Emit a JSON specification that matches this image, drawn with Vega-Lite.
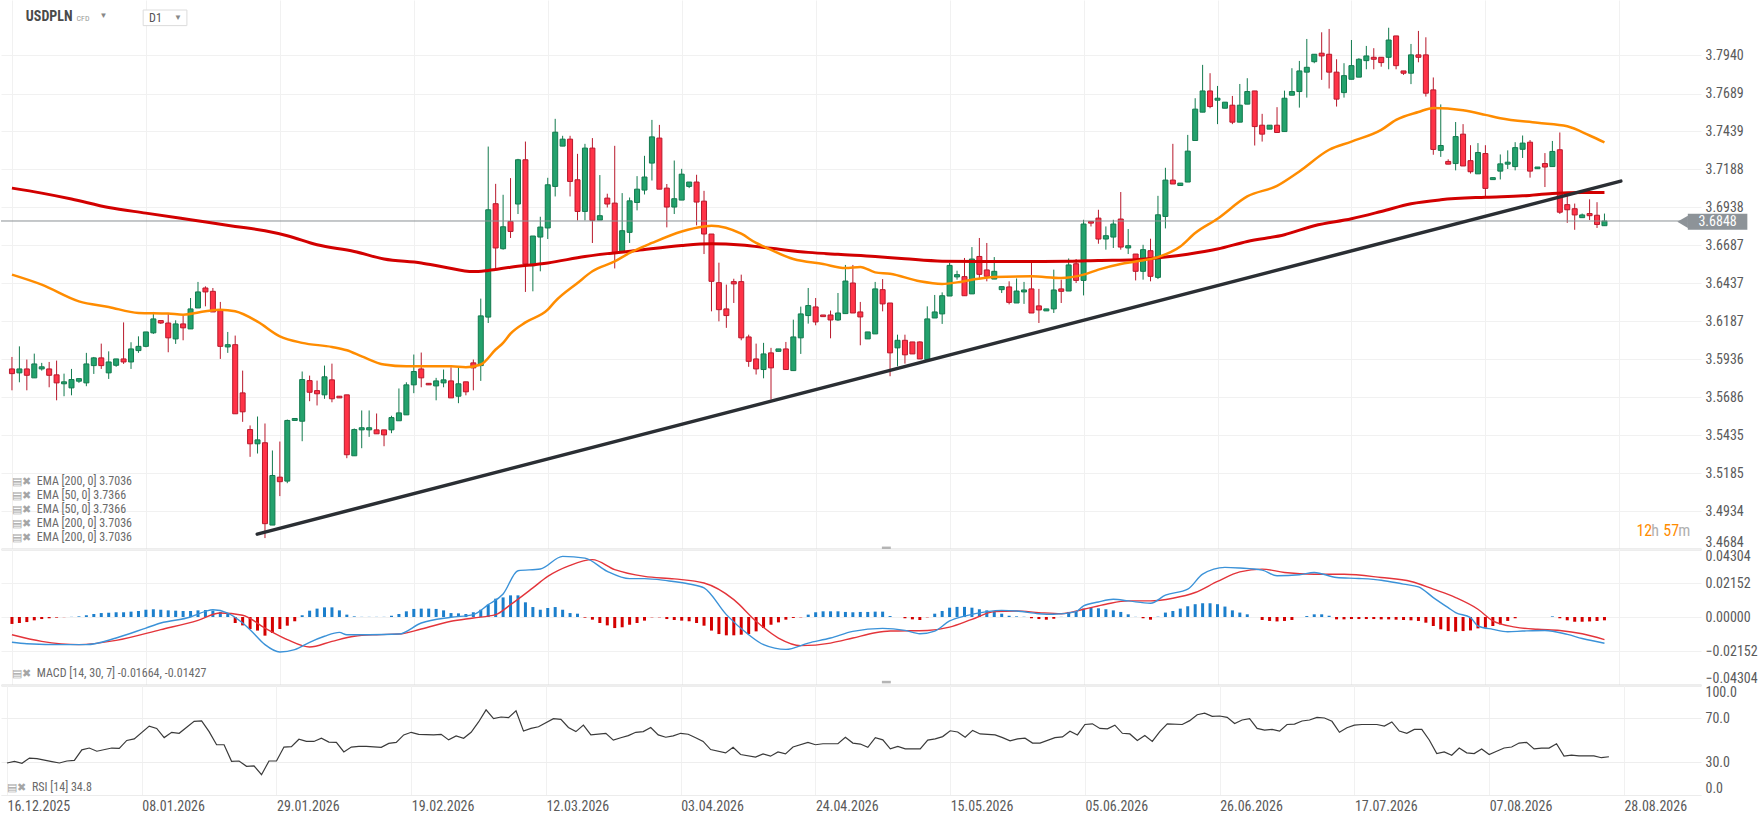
{
"$schema": "https://vega.github.io/schema/vega-lite/v6.json",
"padding": 0,
"spacing": 0,
"bounds": "flush",
"background": "#ffffff",
"config": {"view": {"stroke": null}, "font": "'Liberation Sans Narrow', 'Roboto Condensed', Roboto, sans-serif"},
"datasets": {
"k": [
{"i":0,"o":3.5872,"h":3.5951,"l":3.5731,"c":3.5841},{"i":1,"o":3.5846,"h":3.6021,"l":3.5784,"c":3.5872},{"i":2,"o":3.5872,"h":3.5934,"l":3.5731,"c":3.5830},{"i":3,"o":3.5813,"h":3.5973,"l":3.5813,"c":3.5905},{"i":4,"o":3.5872,"h":3.5912,"l":3.5861,"c":3.5886},{"i":5,"o":3.5872,"h":3.5918,"l":3.5751,"c":3.5830},{"i":6,"o":3.5833,"h":3.5927,"l":3.5665,"c":3.5780},{"i":7,"o":3.5774,"h":3.5841,"l":3.5692,"c":3.5787},{"i":8,"o":3.5747,"h":3.5872,"l":3.5698,"c":3.5802},{"i":9,"o":3.5791,"h":3.5808,"l":3.5780,"c":3.5808},
{"i":10,"o":3.5780,"h":3.5978,"l":3.5758,"c":3.5905},{"i":11,"o":3.5894,"h":3.5951,"l":3.5839,"c":3.5945},{"i":12,"o":3.5945,"h":3.6039,"l":3.5872,"c":3.5894},{"i":13,"o":3.5846,"h":3.5988,"l":3.5806,"c":3.5918},{"i":14,"o":3.5896,"h":3.5938,"l":3.5886,"c":3.5938},{"i":15,"o":3.5938,"h":3.6179,"l":3.5905,"c":3.5918},{"i":16,"o":3.5918,"h":3.6048,"l":3.5872,"c":3.6004},{"i":17,"o":3.5993,"h":3.6087,"l":3.5978,"c":3.6021},{"i":18,"o":3.6021,"h":3.6116,"l":3.6015,"c":3.6116},{"i":19,"o":3.6110,"h":3.6248,"l":3.6103,"c":3.6202},
{"i":20,"o":3.6191,"h":3.6191,"l":3.6169,"c":3.6175},{"i":21,"o":3.6175,"h":3.6235,"l":3.5982,"c":3.6077},{"i":22,"o":3.6070,"h":3.6193,"l":3.6037,"c":3.6169},{"i":23,"o":3.6169,"h":3.6224,"l":3.6061,"c":3.6143},{"i":24,"o":3.6136,"h":3.6340,"l":3.6136,"c":3.6268},{"i":25,"o":3.6274,"h":3.6446,"l":3.6274,"c":3.6380},{"i":26,"o":3.6406,"h":3.6417,"l":3.6285,"c":3.6380},{"i":27,"o":3.6384,"h":3.6406,"l":3.6248,"c":3.6248},{"i":28,"o":3.6257,"h":3.6314,"l":3.5938,"c":3.6021},{"i":29,"o":3.6017,"h":3.6116,"l":3.5978,"c":3.6032},
{"i":30,"o":3.6032,"h":3.6092,"l":3.5576,"c":3.5576},{"i":31,"o":3.5714,"h":3.5861,"l":3.5523,"c":3.5589},{"i":32,"o":3.5472,"h":3.5499,"l":3.5292,"c":3.5378},{"i":33,"o":3.5378,"h":3.5558,"l":3.5314,"c":3.5404},{"i":34,"o":3.5385,"h":3.5512,"l":3.4756,"c":3.4851},{"i":35,"o":3.4842,"h":3.5334,"l":3.4842,"c":3.5169},{"i":36,"o":3.5158,"h":3.5393,"l":3.5033,"c":3.5128},{"i":37,"o":3.5132,"h":3.5538,"l":3.5118,"c":3.5532},{"i":38,"o":3.5532,"h":3.5545,"l":3.5532,"c":3.5545},{"i":39,"o":3.5527,"h":3.5855,"l":3.5395,"c":3.5802},
{"i":40,"o":3.5795,"h":3.5828,"l":3.5659,"c":3.5718},{"i":41,"o":3.5729,"h":3.5795,"l":3.5631,"c":3.5708},{"i":42,"o":3.5701,"h":3.5894,"l":3.5675,"c":3.5820},{"i":43,"o":3.5800,"h":3.5907,"l":3.5652,"c":3.5675},{"i":44,"o":3.5692,"h":3.5692,"l":3.5681,"c":3.5681},{"i":45,"o":3.5701,"h":3.5701,"l":3.5283,"c":3.5306},{"i":46,"o":3.5299,"h":3.5479,"l":3.5299,"c":3.5472},{"i":47,"o":3.5470,"h":3.5598,"l":3.5349,"c":3.5484},{"i":48,"o":3.5470,"h":3.5598,"l":3.5424,"c":3.5484},{"i":49,"o":3.5470,"h":3.5578,"l":3.5444,"c":3.5444},
{"i":50,"o":3.5470,"h":3.5470,"l":3.5362,"c":3.5437},{"i":51,"o":3.5470,"h":3.5563,"l":3.5448,"c":3.5551},{"i":52,"o":3.5530,"h":3.5743,"l":3.5530,"c":3.5582},{"i":53,"o":3.5569,"h":3.5784,"l":3.5569,"c":3.5767},{"i":54,"o":3.5767,"h":3.5967,"l":3.5712,"c":3.5855},{"i":55,"o":3.5872,"h":3.5980,"l":3.5751,"c":3.5813},{"i":56,"o":3.5777,"h":3.5777,"l":3.5767,"c":3.5767},{"i":57,"o":3.5760,"h":3.5813,"l":3.5665,"c":3.5793},{"i":58,"o":3.5780,"h":3.5868,"l":3.5751,"c":3.5800},{"i":59,"o":3.5793,"h":3.5883,"l":3.5681,"c":3.5681},
{"i":60,"o":3.5692,"h":3.5883,"l":3.5646,"c":3.5774},{"i":61,"o":3.5787,"h":3.5787,"l":3.5698,"c":3.5721},{"i":62,"o":3.5912,"h":3.5934,"l":3.5731,"c":3.5879},{"i":63,"o":3.5894,"h":3.6336,"l":3.5793,"c":3.6222},{"i":64,"o":3.6214,"h":3.7339,"l":3.6175,"c":3.6922},{"i":65,"o":3.6962,"h":3.7093,"l":3.6531,"c":3.6670},{"i":66,"o":3.6665,"h":3.7021,"l":3.6659,"c":3.6810},{"i":67,"o":3.6845,"h":3.7131,"l":3.6736,"c":3.6779},{"i":68,"o":3.6960,"h":3.7258,"l":3.6894,"c":3.7252},{"i":69,"o":3.7252,"h":3.7372,"l":3.6380,"c":3.6564},
{"i":70,"o":3.6553,"h":3.6749,"l":3.6384,"c":3.6749},{"i":71,"o":3.6742,"h":3.6876,"l":3.6516,"c":3.6808},{"i":72,"o":3.6802,"h":3.7133,"l":3.6729,"c":3.7087},{"i":73,"o":3.7076,"h":3.7522,"l":3.7010,"c":3.7434},{"i":74,"o":3.7342,"h":3.7410,"l":3.7342,"c":3.7388},{"i":75,"o":3.7388,"h":3.7410,"l":3.7010,"c":3.7109},{"i":76,"o":3.7120,"h":3.7291,"l":3.6852,"c":3.6911},{"i":77,"o":3.6911,"h":3.7357,"l":3.6852,"c":3.7329},{"i":78,"o":3.7329,"h":3.7395,"l":3.6703,"c":3.6852},{"i":79,"o":3.6854,"h":3.7151,"l":3.6854,"c":3.6883},
{"i":80,"o":3.6999,"h":3.7028,"l":3.6937,"c":3.6960},{"i":81,"o":3.6966,"h":3.7344,"l":3.6535,"c":3.6637},{"i":82,"o":3.6641,"h":3.7032,"l":3.6641,"c":3.6784},{"i":83,"o":3.6773,"h":3.7003,"l":3.6703,"c":3.6981},{"i":84,"o":3.6970,"h":3.7144,"l":3.6918,"c":3.7058},{"i":85,"o":3.7052,"h":3.7278,"l":3.7023,"c":3.7138},{"i":86,"o":3.7230,"h":3.7515,"l":3.7115,"c":3.7403},{"i":87,"o":3.7395,"h":3.7482,"l":3.7058,"c":3.7058},{"i":88,"o":3.7065,"h":3.7092,"l":3.6806,"c":3.6940},{"i":89,"o":3.6940,"h":3.7247,"l":3.6894,"c":3.6995},
{"i":90,"o":3.6986,"h":3.7192,"l":3.6986,"c":3.7157},{"i":91,"o":3.7076,"h":3.7105,"l":3.7065,"c":3.7105},{"i":92,"o":3.7105,"h":3.7153,"l":3.6819,"c":3.6973},{"i":93,"o":3.6979,"h":3.7047,"l":3.6630,"c":3.6762},{"i":94,"o":3.6762,"h":3.6762,"l":3.6252,"c":3.6450},{"i":95,"o":3.6441,"h":3.6573,"l":3.6186,"c":3.6263},{"i":96,"o":3.6268,"h":3.6428,"l":3.6143,"c":3.6224},{"i":97,"o":3.6448,"h":3.6467,"l":3.6307,"c":3.6433},{"i":98,"o":3.6448,"h":3.6494,"l":3.6061,"c":3.6077},{"i":99,"o":3.6083,"h":3.6098,"l":3.5886,"c":3.5922},
{"i":100,"o":3.5938,"h":3.6039,"l":3.5835,"c":3.5872},{"i":101,"o":3.5868,"h":3.6044,"l":3.5810,"c":3.5971},{"i":102,"o":3.5978,"h":3.6011,"l":3.5670,"c":3.5879},{"i":103,"o":3.5988,"h":3.6004,"l":3.5988,"c":3.6004},{"i":104,"o":3.6004,"h":3.6050,"l":3.5868,"c":3.5868},{"i":105,"o":3.5861,"h":3.6197,"l":3.5861,"c":3.6083},{"i":106,"o":3.6077,"h":3.6283,"l":3.5971,"c":3.6235},{"i":107,"o":3.6224,"h":3.6406,"l":3.6171,"c":3.6290},{"i":108,"o":3.6281,"h":3.6340,"l":3.6160,"c":3.6182},{"i":109,"o":3.6228,"h":3.6228,"l":3.6217,"c":3.6217},
{"i":110,"o":3.6228,"h":3.6257,"l":3.6074,"c":3.6195},{"i":111,"o":3.6195,"h":3.6373,"l":3.6189,"c":3.6241},{"i":112,"o":3.6237,"h":3.6558,"l":3.6237,"c":3.6452},{"i":113,"o":3.6439,"h":3.6558,"l":3.6241,"c":3.6241},{"i":114,"o":3.6248,"h":3.6314,"l":3.6028,"c":3.6215},{"i":115,"o":3.6070,"h":3.6116,"l":3.6070,"c":3.6116},{"i":116,"o":3.6103,"h":3.6446,"l":3.6103,"c":3.6400},{"i":117,"o":3.6395,"h":3.6465,"l":3.6252,"c":3.6301},{"i":118,"o":3.6307,"h":3.6307,"l":3.5824,"c":3.5978},{"i":119,"o":3.6011,"h":3.6098,"l":3.5889,"c":3.6061},
{"i":120,"o":3.6061,"h":3.6098,"l":3.5907,"c":3.5965},{"i":121,"o":3.6050,"h":3.6050,"l":3.5971,"c":3.5971},{"i":122,"o":3.6050,"h":3.6054,"l":3.5938,"c":3.5938},{"i":123,"o":3.5934,"h":3.6285,"l":3.5934,"c":3.6202},{"i":124,"o":3.6208,"h":3.6360,"l":3.6208,"c":3.6248},{"i":125,"o":3.6235,"h":3.6377,"l":3.6169,"c":3.6355},{"i":126,"o":3.6353,"h":3.6571,"l":3.6353,"c":3.6555},{"i":127,"o":3.6479,"h":3.6520,"l":3.6461,"c":3.6494},{"i":128,"o":3.6481,"h":3.6604,"l":3.6355,"c":3.6355},{"i":129,"o":3.6367,"h":3.6676,"l":3.6367,"c":3.6597},
{"i":130,"o":3.6614,"h":3.6736,"l":3.6472,"c":3.6496},{"i":131,"o":3.6525,"h":3.6703,"l":3.6450,"c":3.6483},{"i":132,"o":3.6465,"h":3.6610,"l":3.6465,"c":3.6516},{"i":133,"o":3.6395,"h":3.6415,"l":3.6373,"c":3.6415},{"i":134,"o":3.6413,"h":3.6450,"l":3.6298,"c":3.6311},{"i":135,"o":3.6307,"h":3.6469,"l":3.6307,"c":3.6386},{"i":136,"o":3.6380,"h":3.6446,"l":3.6301,"c":3.6393},{"i":137,"o":3.6400,"h":3.6577,"l":3.6241,"c":3.6241},{"i":138,"o":3.6288,"h":3.6400,"l":3.6175,"c":3.6261},{"i":139,"o":3.6255,"h":3.6268,"l":3.6255,"c":3.6268},
{"i":140,"o":3.6268,"h":3.6527,"l":3.6241,"c":3.6393},{"i":141,"o":3.6400,"h":3.6461,"l":3.6307,"c":3.6384},{"i":142,"o":3.6386,"h":3.6601,"l":3.6386,"c":3.6558},{"i":143,"o":3.6566,"h":3.6597,"l":3.6439,"c":3.6456},{"i":144,"o":3.6456,"h":3.6856,"l":3.6357,"c":3.6828},{"i":145,"o":3.6845,"h":3.6845,"l":3.6812,"c":3.6834},{"i":146,"o":3.6867,"h":3.6922,"l":3.6698,"c":3.6729},{"i":147,"o":3.6729,"h":3.6812,"l":3.6659,"c":3.6751},{"i":148,"o":3.6742,"h":3.6856,"l":3.6670,"c":3.6828},{"i":149,"o":3.6861,"h":3.7039,"l":3.6659,"c":3.6676},
{"i":150,"o":3.6670,"h":3.6795,"l":3.6630,"c":3.6685},{"i":151,"o":3.6630,"h":3.6630,"l":3.6456,"c":3.6516},{"i":152,"o":3.6516,"h":3.6691,"l":3.6461,"c":3.6659},{"i":153,"o":3.6652,"h":3.6731,"l":3.6450,"c":3.6483},{"i":154,"o":3.6476,"h":3.7014,"l":3.6465,"c":3.6889},{"i":155,"o":3.6878,"h":3.7199,"l":3.6799,"c":3.7118},{"i":156,"o":3.7118,"h":3.7357,"l":3.7092,"c":3.7092},{"i":157,"o":3.7082,"h":3.7098,"l":3.7082,"c":3.7098},{"i":158,"o":3.7105,"h":3.7416,"l":3.7105,"c":3.7309},{"i":159,"o":3.7379,"h":3.7658,"l":3.7379,"c":3.7586},
{"i":160,"o":3.7566,"h":3.7878,"l":3.7566,"c":3.7706},{"i":161,"o":3.7706,"h":3.7823,"l":3.7592,"c":3.7603},{"i":162,"o":3.7645,"h":3.7739,"l":3.7487,"c":3.7658},{"i":163,"o":3.7592,"h":3.7632,"l":3.7592,"c":3.7632},{"i":164,"o":3.7612,"h":3.7673,"l":3.7487,"c":3.7500},{"i":165,"o":3.7500,"h":3.7752,"l":3.7500,"c":3.7612},{"i":166,"o":3.7619,"h":3.7790,"l":3.7619,"c":3.7702},{"i":167,"o":3.7706,"h":3.7706,"l":3.7346,"c":3.7471},{"i":168,"o":3.7480,"h":3.7555,"l":3.7372,"c":3.7421},{"i":169,"o":3.7454,"h":3.7480,"l":3.7454,"c":3.7480},
{"i":170,"o":3.7480,"h":3.7599,"l":3.7432,"c":3.7432},{"i":171,"o":3.7438,"h":3.7708,"l":3.7438,"c":3.7658},{"i":172,"o":3.7678,"h":3.7856,"l":3.7678,"c":3.7702},{"i":173,"o":3.7702,"h":3.7904,"l":3.7596,"c":3.7838},{"i":174,"o":3.7830,"h":3.8049,"l":3.7662,"c":3.7862},{"i":175,"o":3.7899,"h":3.7948,"l":3.7889,"c":3.7948},{"i":176,"o":3.7955,"h":3.8093,"l":3.7779,"c":3.7937},{"i":177,"o":3.7948,"h":3.8115,"l":3.7722,"c":3.7830},{"i":178,"o":3.7830,"h":3.7915,"l":3.7603,"c":3.7652},{"i":179,"o":3.7695,"h":3.7889,"l":3.7662,"c":3.7807},
{"i":180,"o":3.7783,"h":3.8042,"l":3.7783,"c":3.7873},{"i":181,"o":3.7797,"h":3.7922,"l":3.7797,"c":3.7915},{"i":182,"o":3.7906,"h":3.8003,"l":3.7849,"c":3.7937},{"i":183,"o":3.7928,"h":3.7988,"l":3.7849,"c":3.7915},{"i":184,"o":3.7928,"h":3.7928,"l":3.7866,"c":3.7893},{"i":185,"o":3.7928,"h":3.8123,"l":3.7849,"c":3.8042},{"i":186,"o":3.8069,"h":3.8069,"l":3.7849,"c":3.7873},{"i":187,"o":3.7838,"h":3.7838,"l":3.7812,"c":3.7823},{"i":188,"o":3.7823,"h":3.8016,"l":3.7751,"c":3.7944},{"i":189,"o":3.7944,"h":3.8102,"l":3.7895,"c":3.7928},
{"i":190,"o":3.7944,"h":3.8060,"l":3.7669,"c":3.7691},{"i":191,"o":3.7713,"h":3.7795,"l":3.7285,"c":3.7320},{"i":192,"o":3.7314,"h":3.7617,"l":3.7271,"c":3.7346},{"i":193,"o":3.7241,"h":3.7255,"l":3.7223,"c":3.7223},{"i":194,"o":3.7227,"h":3.7501,"l":3.7182,"c":3.7405},{"i":195,"o":3.7421,"h":3.7487,"l":3.7211,"c":3.7211},{"i":196,"o":3.7246,"h":3.7348,"l":3.7161,"c":3.7173},{"i":197,"o":3.7159,"h":3.7362,"l":3.7159,"c":3.7300},{"i":198,"o":3.7293,"h":3.7348,"l":3.7008,"c":3.7063},{"i":199,"o":3.7121,"h":3.7134,"l":3.7121,"c":3.7134},
{"i":200,"o":3.7177,"h":3.7287,"l":3.7122,"c":3.7225},{"i":201,"o":3.7223,"h":3.7314,"l":3.7191,"c":3.7236},{"i":202,"o":3.7207,"h":3.7368,"l":3.7182,"c":3.7332},{"i":203,"o":3.7321,"h":3.7412,"l":3.7264,"c":3.7362},{"i":204,"o":3.7368,"h":3.7382,"l":3.7134,"c":3.7177},{"i":205,"o":3.7193,"h":3.7204,"l":3.7193,"c":3.7204},{"i":206,"o":3.7227,"h":3.7296,"l":3.7072,"c":3.7204},{"i":207,"o":3.7207,"h":3.7376,"l":3.7207,"c":3.7307},{"i":208,"o":3.7318,"h":3.7432,"l":3.6895,"c":3.6906},{"i":209,"o":3.6956,"h":3.7013,"l":3.6836,"c":3.6922},
{"i":210,"o":3.6929,"h":3.6963,"l":3.6790,"c":3.6888},{"i":211,"o":3.6870,"h":3.6897,"l":3.6870,"c":3.6888},{"i":212,"o":3.6897,"h":3.6991,"l":3.6854,"c":3.6883},{"i":213,"o":3.6886,"h":3.6972,"l":3.6802,"c":3.6825},{"i":214,"o":3.6817,"h":3.6897,"l":3.6817,"c":3.6848}
],
"e200": [
{"i":0,"v":3.7065},{"i":4,"v":3.7032},{"i":8,"v":3.6993},{"i":13,"v":3.6937},{"i":18,"v":3.6900},{"i":24,"v":3.6856},{"i":30,"v":3.6812},{"i":34,"v":3.6784},{"i":37,"v":3.6751},{"i":41,"v":3.6691},{"i":46,"v":3.6647},{"i":50,"v":3.6597},{"i":55,"v":3.6571},{"i":58,"v":3.6545},{"i":62,"v":3.6514},{"i":64,"v":3.6522},{"i":67,"v":3.6543},{"i":72,"v":3.6571},{"i":77,"v":3.6614},{"i":84,"v":3.6654},{"i":90,"v":3.6687},{"i":94,"v":3.6698},{"i":98,"v":3.6690},{"i":102,"v":3.6668},{"i":107,"v":3.6641},{"i":111,"v":3.6628},{"i":116,"v":3.6614},{"i":120,"v":3.6599},{"i":125,"v":3.6583},{"i":130,"v":3.6581},{"i":136,"v":3.6581},{"i":142,"v":3.6583},{"i":146,"v":3.6588},{"i":151,"v":3.6593},{"i":155,"v":3.6610},{"i":158,"v":3.6629},{"i":162,"v":3.6663},{"i":166,"v":3.6713},{"i":171,"v":3.6757},{"i":175,"v":3.6817},{"i":180,"v":3.6863},{"i":184,"v":3.6911},{"i":188,"v":3.6962},{"i":192,"v":3.6988},{"i":198,"v":3.7005},{"i":203,"v":3.7014},{"i":207,"v":3.7030},{"i":211,"v":3.7036},{"i":214,"v":3.7036}
],
"e50": [
{"i":0,"v":3.6494},{"i":4,"v":3.6428},{"i":9,"v":3.6318},{"i":13,"v":3.6281},{"i":17,"v":3.6241},{"i":21,"v":3.6237},{"i":23,"v":3.6230},{"i":26,"v":3.6252},{"i":28,"v":3.6263},{"i":30,"v":3.6252},{"i":33,"v":3.6184},{"i":36,"v":3.6087},{"i":39,"v":3.6044},{"i":43,"v":3.6017},{"i":45,"v":3.5995},{"i":47,"v":3.5955},{"i":50,"v":3.5901},{"i":53,"v":3.5889},{"i":59,"v":3.5889},{"i":61,"v":3.5883},{"i":63,"v":3.5901},{"i":65,"v":3.6000},{"i":66,"v":3.6044},{"i":67,"v":3.6105},{"i":69,"v":3.6179},{"i":72,"v":3.6263},{"i":73,"v":3.6318},{"i":76,"v":3.6439},{"i":78,"v":3.6516},{"i":81,"v":3.6581},{"i":83,"v":3.6637},{"i":86,"v":3.6703},{"i":90,"v":3.6779},{"i":93,"v":3.6812},{"i":94,"v":3.6817},{"i":98,"v":3.6764},{"i":100,"v":3.6703},{"i":101,"v":3.6680},{"i":105,"v":3.6597},{"i":109,"v":3.6564},{"i":112,"v":3.6538},{"i":114,"v":3.6545},{"i":116,"v":3.6509},{"i":118,"v":3.6500},{"i":122,"v":3.6450},{"i":125,"v":3.6433},{"i":127,"v":3.6443},{"i":129,"v":3.6461},{"i":132,"v":3.6479},{"i":137,"v":3.6483},{"i":141,"v":3.6472},{"i":144,"v":3.6494},{"i":146,"v":3.6527},{"i":149,"v":3.6564},{"i":151,"v":3.6581},{"i":154,"v":3.6610},{"i":157,"v":3.6680},{"i":159,"v":3.6769},{"i":162,"v":3.6863},{"i":166,"v":3.7010},{"i":170,"v":3.7080},{"i":173,"v":3.7175},{"i":177,"v":3.7318},{"i":180,"v":3.7372},{"i":184,"v":3.7449},{"i":186,"v":3.7515},{"i":189,"v":3.7567},{"i":191,"v":3.7594},{"i":195,"v":3.7578},{"i":198,"v":3.7548},{"i":200,"v":3.7526},{"i":205,"v":3.7496},{"i":209,"v":3.7473},{"i":212,"v":3.7412},{"i":214,"v":3.7366}
],
"tr": [{"i":32.96,"v":3.4782},{"i":216.2,"v":3.7111}],
"m": [
{"i":0,"v":-0.0160},{"i":2,"v":-0.0169},{"i":7,"v":-0.0175},{"i":10,"v":-0.0175},{"i":14,"v":-0.0133},{"i":18,"v":-0.0070},{"i":20,"v":-0.0038},{"i":24,"v":0.0000},{"i":26,"v":0.0036},{"i":27,"v":0.0046},{"i":29,"v":0.0025},{"i":31,"v":-0.0038},{"i":32,"v":-0.0080},{"i":34,"v":-0.0175},{"i":36,"v":-0.0222},{"i":38,"v":-0.0207},{"i":40,"v":-0.0160},{"i":42,"v":-0.0122},{"i":44,"v":-0.0097},{"i":45,"v":-0.0112},{"i":48,"v":-0.0112},{"i":52,"v":-0.0108},{"i":55,"v":-0.0038},{"i":59,"v":-0.0002},{"i":62,"v":0.0015},{"i":64,"v":0.0078},{"i":66,"v":0.0146},{"i":68,"v":0.0293},{"i":71,"v":0.0304},{"i":74,"v":0.0384},{"i":77,"v":0.0373},{"i":80,"v":0.0289},{"i":83,"v":0.0243},{"i":85,"v":0.0243},{"i":88,"v":0.0230},{"i":91,"v":0.0209},{"i":93,"v":0.0184},{"i":96,"v":0.0015},{"i":99,"v":-0.0112},{"i":101,"v":-0.0175},{"i":104,"v":-0.0205},{"i":107,"v":-0.0165},{"i":110,"v":-0.0133},{"i":113,"v":-0.0091},{"i":117,"v":-0.0072},{"i":120,"v":-0.0085},{"i":122,"v":-0.0106},{"i":124,"v":-0.0089},{"i":126,"v":-0.0025},{"i":128,"v":0.0006},{"i":131,"v":0.0034},{"i":133,"v":0.0042},{"i":135,"v":0.0038},{"i":138,"v":0.0021},{"i":140,"v":0.0017},{"i":143,"v":0.0034},{"i":144,"v":0.0070},{"i":146,"v":0.0095},{"i":148,"v":0.0112},{"i":150,"v":0.0102},{"i":153,"v":0.0087},{"i":155,"v":0.0138},{"i":158,"v":0.0176},{"i":160,"v":0.0271},{"i":163,"v":0.0314},{"i":165,"v":0.0310},{"i":168,"v":0.0297},{"i":170,"v":0.0261},{"i":173,"v":0.0267},{"i":175,"v":0.0282},{"i":178,"v":0.0250},{"i":181,"v":0.0244},{"i":184,"v":0.0233},{"i":187,"v":0.0208},{"i":189,"v":0.0191},{"i":191,"v":0.0123},{"i":193,"v":0.0059},{"i":194,"v":0.0028},{"i":196,"v":-0.0004},{"i":197,"v":-0.0057},{"i":199,"v":-0.0078},{"i":201,"v":-0.0093},{"i":203,"v":-0.0089},{"i":206,"v":-0.0085},{"i":209,"v":-0.0110},{"i":211,"v":-0.0136},{"i":214,"v":-0.0166}
],
"sg": [
{"i":0,"v":-0.0112},{"i":4,"v":-0.0154},{"i":9,"v":-0.0175},{"i":14,"v":-0.0148},{"i":20,"v":-0.0080},{"i":25,"v":-0.0021},{"i":28,"v":0.0025},{"i":31,"v":0.0011},{"i":34,"v":-0.0070},{"i":37,"v":-0.0143},{"i":40,"v":-0.0190},{"i":43,"v":-0.0154},{"i":46,"v":-0.0122},{"i":49,"v":-0.0112},{"i":52,"v":-0.0108},{"i":55,"v":-0.0076},{"i":59,"v":-0.0027},{"i":62,"v":-0.0006},{"i":65,"v":0.0015},{"i":67,"v":0.0078},{"i":70,"v":0.0184},{"i":72,"v":0.0257},{"i":75,"v":0.0327},{"i":78,"v":0.0363},{"i":81,"v":0.0300},{"i":85,"v":0.0257},{"i":89,"v":0.0241},{"i":93,"v":0.0215},{"i":97,"v":0.0110},{"i":100,"v":-0.0027},{"i":103,"v":-0.0133},{"i":106,"v":-0.0181},{"i":110,"v":-0.0165},{"i":113,"v":-0.0133},{"i":116,"v":-0.0100},{"i":118,"v":-0.0089},{"i":123,"v":-0.0085},{"i":126,"v":-0.0064},{"i":129,"v":-0.0015},{"i":132,"v":0.0034},{"i":135,"v":0.0038},{"i":138,"v":0.0028},{"i":141,"v":0.0021},{"i":144,"v":0.0049},{"i":147,"v":0.0081},{"i":150,"v":0.0102},{"i":153,"v":0.0102},{"i":156,"v":0.0119},{"i":159,"v":0.0155},{"i":162,"v":0.0225},{"i":165,"v":0.0286},{"i":168,"v":0.0303},{"i":171,"v":0.0282},{"i":175,"v":0.0271},{"i":179,"v":0.0271},{"i":184,"v":0.0250},{"i":188,"v":0.0225},{"i":191,"v":0.0176},{"i":194,"v":0.0123},{"i":197,"v":0.0049},{"i":199,"v":-0.0025},{"i":202,"v":-0.0064},{"i":205,"v":-0.0078},{"i":208,"v":-0.0085},{"i":211,"v":-0.0106},{"i":214,"v":-0.0143}
],
"hist": [
{"i":0,"v":-0.0044},{"i":1,"v":-0.0038},{"i":2,"v":-0.0032},{"i":3,"v":-0.0021},{"i":4,"v":-0.0013},{"i":5,"v":-0.0008},{"i":6,"v":-0.0004},{"i":7,"v":-0.0001},{"i":8,"v":0.0001},{"i":9,"v":0.0004},
{"i":10,"v":0.0011},{"i":11,"v":0.0019},{"i":12,"v":0.0025},{"i":13,"v":0.0027},{"i":14,"v":0.0030},{"i":15,"v":0.0030},{"i":16,"v":0.0034},{"i":17,"v":0.0038},{"i":18,"v":0.0046},{"i":19,"v":0.0049},
{"i":20,"v":0.0046},{"i":21,"v":0.0042},{"i":22,"v":0.0040},{"i":23,"v":0.0038},{"i":24,"v":0.0038},{"i":25,"v":0.0042},{"i":26,"v":0.0044},{"i":27,"v":0.0040},{"i":28,"v":0.0032},{"i":29,"v":0.0019},
{"i":30,"v":-0.0038},{"i":31,"v":-0.0053},{"i":32,"v":-0.0076},{"i":33,"v":-0.0086},{"i":34,"v":-0.0118},{"i":35,"v":-0.0101},{"i":36,"v":-0.0076},{"i":37,"v":-0.0055},{"i":38,"v":-0.0027},{"i":39,"v":0.0011},
{"i":40,"v":0.0040},{"i":41,"v":0.0053},{"i":42,"v":0.0061},{"i":43,"v":0.0061},{"i":44,"v":0.0042},{"i":45,"v":0.0015},{"i":46,"v":0.0004},{"i":47,"v":0.0001},{"i":48,"v":0.0001},{"i":49,"v":0.0001},
{"i":50,"v":0.0001},{"i":51,"v":0.0008},{"i":52,"v":0.0019},{"i":53,"v":0.0036},{"i":54,"v":0.0051},{"i":55,"v":0.0053},{"i":56,"v":0.0053},{"i":57,"v":0.0051},{"i":58,"v":0.0042},{"i":59,"v":0.0025},
{"i":60,"v":0.0023},{"i":61,"v":0.0019},{"i":62,"v":0.0030},{"i":63,"v":0.0046},{"i":64,"v":0.0078},{"i":65,"v":0.0116},{"i":66,"v":0.0124},{"i":67,"v":0.0137},{"i":68,"v":0.0137},{"i":69,"v":0.0093},
{"i":70,"v":0.0063},{"i":71,"v":0.0046},{"i":72,"v":0.0057},{"i":73,"v":0.0063},{"i":74,"v":0.0046},{"i":75,"v":0.0025},{"i":76,"v":0.0021},{"i":77,"v":-0.0004},{"i":78,"v":-0.0017},{"i":79,"v":-0.0038},
{"i":80,"v":-0.0053},{"i":81,"v":-0.0070},{"i":82,"v":-0.0065},{"i":83,"v":-0.0049},{"i":84,"v":-0.0038},{"i":85,"v":-0.0023},{"i":86,"v":-0.0002},{"i":87,"v":-0.0002},{"i":88,"v":-0.0013},{"i":89,"v":-0.0019},
{"i":90,"v":-0.0023},{"i":91,"v":-0.0027},{"i":92,"v":-0.0038},{"i":93,"v":-0.0055},{"i":94,"v":-0.0086},{"i":95,"v":-0.0108},{"i":96,"v":-0.0116},{"i":97,"v":-0.0116},{"i":98,"v":-0.0112},{"i":99,"v":-0.0108},
{"i":100,"v":-0.0091},{"i":101,"v":-0.0070},{"i":102,"v":-0.0049},{"i":103,"v":-0.0034},{"i":104,"v":-0.0017},{"i":105,"v":-0.0006},{"i":106,"v":-0.0002},{"i":107,"v":0.0015},{"i":108,"v":0.0030},{"i":109,"v":0.0036},
{"i":110,"v":0.0036},{"i":111,"v":0.0036},{"i":112,"v":0.0032},{"i":113,"v":0.0030},{"i":114,"v":0.0032},{"i":115,"v":0.0032},{"i":116,"v":0.0034},{"i":117,"v":0.0034},{"i":118,"v":0.0006},{"i":119,"v":0.0000},
{"i":120,"v":-0.0008},{"i":121,"v":-0.0015},{"i":122,"v":-0.0019},{"i":123,"v":-0.0002},{"i":124,"v":0.0021},{"i":125,"v":0.0038},{"i":126,"v":0.0059},{"i":127,"v":0.0064},{"i":128,"v":0.0064},{"i":129,"v":0.0059},
{"i":130,"v":0.0049},{"i":131,"v":0.0042},{"i":132,"v":0.0034},{"i":133,"v":0.0021},{"i":134,"v":0.0008},{"i":135,"v":0.0004},{"i":136,"v":0.0001},{"i":137,"v":-0.0008},{"i":138,"v":-0.0013},{"i":139,"v":-0.0017},
{"i":140,"v":-0.0011},{"i":141,"v":0.0001},{"i":142,"v":0.0032},{"i":143,"v":0.0038},{"i":144,"v":0.0053},{"i":145,"v":0.0059},{"i":146,"v":0.0055},{"i":147,"v":0.0049},{"i":148,"v":0.0042},{"i":149,"v":0.0032},
{"i":150,"v":0.0017},{"i":151,"v":0.0001},{"i":152,"v":-0.0008},{"i":153,"v":-0.0017},{"i":154,"v":0.0002},{"i":155,"v":0.0028},{"i":156,"v":0.0038},{"i":157,"v":0.0053},{"i":158,"v":0.0068},{"i":159,"v":0.0081},
{"i":160,"v":0.0087},{"i":161,"v":0.0087},{"i":162,"v":0.0081},{"i":163,"v":0.0066},{"i":164,"v":0.0042},{"i":165,"v":0.0028},{"i":166,"v":0.0017},{"i":167,"v":0.0000},{"i":168,"v":-0.0019},{"i":169,"v":-0.0025},
{"i":170,"v":-0.0028},{"i":171,"v":-0.0025},{"i":172,"v":-0.0019},{"i":173,"v":0.0000},{"i":174,"v":0.0006},{"i":175,"v":0.0017},{"i":176,"v":0.0017},{"i":177,"v":0.0008},{"i":178,"v":-0.0015},{"i":179,"v":-0.0015},
{"i":180,"v":-0.0013},{"i":181,"v":-0.0013},{"i":182,"v":-0.0013},{"i":183,"v":-0.0013},{"i":184,"v":-0.0015},{"i":185,"v":-0.0015},{"i":186,"v":-0.0017},{"i":187,"v":-0.0019},{"i":188,"v":-0.0021},{"i":189,"v":-0.0025},
{"i":190,"v":-0.0036},{"i":191,"v":-0.0057},{"i":192,"v":-0.0078},{"i":193,"v":-0.0089},{"i":194,"v":-0.0093},{"i":195,"v":-0.0089},{"i":196,"v":-0.0085},{"i":197,"v":-0.0072},{"i":198,"v":-0.0068},{"i":199,"v":-0.0057},
{"i":200,"v":-0.0047},{"i":201,"v":-0.0025},{"i":202,"v":-0.0008},{"i":203,"v":0.0000},{"i":204,"v":0.0000},{"i":205,"v":0.0000},{"i":206,"v":0.0000},{"i":207,"v":0.0004},{"i":208,"v":-0.0008},{"i":209,"v":-0.0021},
{"i":210,"v":-0.0030},{"i":211,"v":-0.0030},{"i":212,"v":-0.0028},{"i":213,"v":-0.0025},{"i":214,"v":-0.0021}
],
"rsi": [
{"i":0,"v":29.1},{"i":1,"v":30.6},{"i":2,"v":28.8},{"i":3,"v":33.6},{"i":4,"v":33.0},{"i":6,"v":30.3},{"i":7,"v":29.1},{"i":8,"v":30.9},{"i":9,"v":31.5},{"i":10,"v":41.0},{"i":11,"v":42.7},{"i":12,"v":39.8},{"i":14,"v":42.7},{"i":15,"v":42.4},{"i":16,"v":49.6},{"i":17,"v":51.0},{"i":19,"v":62.6},{"i":20,"v":60.5},{"i":21,"v":52.2},{"i":22,"v":57.0},{"i":23,"v":56.1},{"i":25,"v":67.0},{"i":26,"v":67.3},{"i":27,"v":57.6},{"i":28,"v":45.7},{"i":29,"v":45.7},{"i":30,"v":30.6},{"i":31,"v":30.9},{"i":32,"v":26.1},{"i":33,"v":26.4},{"i":34,"v":18.4},{"i":35,"v":30.9},{"i":36,"v":30.9},{"i":37,"v":43.6},{"i":38,"v":43.9},{"i":39,"v":50.7},{"i":40,"v":48.7},{"i":41,"v":48.7},{"i":42,"v":51.6},{"i":43,"v":48.1},{"i":44,"v":47.8},{"i":45,"v":39.2},{"i":46,"v":43.6},{"i":47,"v":44.2},{"i":48,"v":44.2},{"i":50,"v":43.3},{"i":51,"v":46.9},{"i":52,"v":47.8},{"i":53,"v":54.6},{"i":54,"v":57.0},{"i":55,"v":55.2},{"i":57,"v":54.6},{"i":58,"v":55.2},{"i":59,"v":50.1},{"i":60,"v":53.7},{"i":61,"v":51.6},{"i":62,"v":57.0},{"i":63,"v":66.4},{"i":64,"v":77.4},{"i":65,"v":69.4},{"i":66,"v":70.9},{"i":67,"v":70.3},{"i":68,"v":76.5},{"i":69,"v":58.1},{"i":70,"v":60.5},{"i":71,"v":62.0},{"i":73,"v":69.4},{"i":74,"v":68.8},{"i":75,"v":61.4},{"i":76,"v":57.6},{"i":77,"v":63.5},{"i":78,"v":54.6},{"i":80,"v":56.1},{"i":81,"v":49.9},{"i":82,"v":52.0},{"i":83,"v":54.0},{"i":84,"v":57.0},{"i":85,"v":57.6},{"i":86,"v":61.4},{"i":87,"v":54.6},{"i":88,"v":52.5},{"i":89,"v":53.7},{"i":90,"v":56.1},{"i":91,"v":55.2},{"i":92,"v":52.0},{"i":93,"v":48.7},{"i":94,"v":41.3},{"i":96,"v":38.3},{"i":97,"v":43.3},{"i":98,"v":36.8},{"i":100,"v":34.4},{"i":101,"v":37.4},{"i":102,"v":35.3},{"i":103,"v":39.2},{"i":104,"v":37.4},{"i":105,"v":43.6},{"i":107,"v":47.8},{"i":108,"v":45.7},{"i":109,"v":46.6},{"i":111,"v":46.6},{"i":112,"v":52.5},{"i":113,"v":47.2},{"i":114,"v":46.3},{"i":115,"v":43.3},{"i":116,"v":52.2},{"i":117,"v":50.1},{"i":118,"v":41.9},{"i":119,"v":44.2},{"i":120,"v":41.9},{"i":122,"v":41.9},{"i":123,"v":49.9},{"i":124,"v":51.0},{"i":125,"v":53.1},{"i":126,"v":58.4},{"i":127,"v":57.3},{"i":128,"v":52.5},{"i":129,"v":58.7},{"i":130,"v":55.5},{"i":132,"v":54.6},{"i":133,"v":52.2},{"i":134,"v":49.3},{"i":135,"v":51.0},{"i":136,"v":51.6},{"i":137,"v":47.2},{"i":138,"v":47.2},{"i":140,"v":52.2},{"i":141,"v":52.8},{"i":142,"v":57.9},{"i":143,"v":54.6},{"i":144,"v":64.1},{"i":145,"v":64.7},{"i":146,"v":60.5},{"i":147,"v":60.2},{"i":148,"v":63.5},{"i":149,"v":56.1},{"i":150,"v":55.5},{"i":151,"v":49.6},{"i":152,"v":54.0},{"i":153,"v":48.7},{"i":154,"v":57.6},{"i":155,"v":64.7},{"i":157,"v":64.1},{"i":158,"v":67.6},{"i":159,"v":73.0},{"i":160,"v":74.4},{"i":161,"v":71.5},{"i":162,"v":71.8},{"i":163,"v":70.6},{"i":164,"v":65.0},{"i":165,"v":68.2},{"i":166,"v":69.4},{"i":167,"v":60.5},{"i":168,"v":59.0},{"i":169,"v":59.6},{"i":170,"v":58.1},{"i":171,"v":64.1},{"i":172,"v":64.4},{"i":173,"v":67.3},{"i":174,"v":68.2},{"i":175,"v":70.6},{"i":176,"v":70.0},{"i":177,"v":67.0},{"i":178,"v":57.0},{"i":179,"v":61.1},{"i":180,"v":63.5},{"i":181,"v":64.1},{"i":183,"v":64.1},{"i":184,"v":62.6},{"i":185,"v":66.4},{"i":186,"v":58.1},{"i":187,"v":56.1},{"i":188,"v":59.6},{"i":189,"v":59.6},{"i":190,"v":50.0},{"i":191,"v":37.7},{"i":192,"v":39.2},{"i":193,"v":36.2},{"i":194,"v":42.7},{"i":195,"v":38.3},{"i":196,"v":37.7},{"i":197,"v":41.9},{"i":198,"v":36.8},{"i":199,"v":39.8},{"i":200,"v":42.7},{"i":201,"v":43.6},{"i":202,"v":47.2},{"i":203,"v":47.8},{"i":204,"v":41.9},{"i":205,"v":42.7},{"i":206,"v":42.7},{"i":207,"v":46.6},{"i":208,"v":35.3},{"i":209,"v":36.2},{"i":210,"v":35.6},{"i":212,"v":35.6},{"i":213,"v":33.9},{"i":214,"v":34.8}
]
},
"vconcat": [
{
"width": 1700, "height": 549,
"layer": [
{"data": {"name": "k"}, "mark": {"type": "rule", "strokeWidth": 1},
 "encoding": {
  "x": {"field": "i", "type": "quantitative", "scale": {"domain": [-0.8, 226.3], "nice": false, "zero": false},
        "axis": {"values": [0,18,36,54,72,90,108,126,144,162,180,198,216], "tickCount": 50, "labels": false, "ticks": false, "grid": true, "gridColor": "#f1f1f1", "domainColor": "#dcdcdc", "domainWidth": 2, "title": null}},
  "y": {"field": "l", "type": "quantitative", "scale": {"domain": [3.4684, 3.8306], "nice": false, "zero": false},
        "axis": {"orient": "right", "values": [3.4684,3.4934,3.5185,3.5435,3.5686,3.5936,3.6187,3.6437,3.6687,3.6938,3.7188,3.7439,3.7689,3.7940], "tickCount": 30, "format": ".4f", "title": null, "ticks": false, "domain": false, "grid": true, "gridColor": "#f1f1f1", "labelPadding": 4, "labelFlush": true, "labelOverlap": false, "labelColor": "#5a5a5a", "labelFontSize": 14}},
  "y2": {"field": "h"},
  "color": {"condition": {"test": "datum.c >= datum.o", "value": "#127a4e"}, "value": "#b8192c"}
 }},
{"data": {"name": "k"}, "mark": {"type": "bar", "size": 5, "strokeWidth": 1},
 "encoding": {
  "x": {"field": "i", "type": "quantitative"},
  "y": {"field": "o", "type": "quantitative"},
  "y2": {"field": "c"},
  "fill": {"condition": {"test": "datum.c >= datum.o", "value": "#23a26d"}, "value": "#ff3347"},
  "stroke": {"condition": {"test": "datum.c >= datum.o", "value": "#127a4e"}, "value": "#b8192c"}
 }},
{"data": {"values": [{}]}, "mark": {"type": "rule", "color": "#8b9095", "strokeWidth": 1}, "encoding": {"y": {"datum": 3.6848}}},
{"data": {"name": "e200"}, "mark": {"type": "line", "color": "#d20000", "strokeWidth": 3, "interpolate": "monotone"},
 "encoding": {"x": {"field": "i", "type": "quantitative"}, "y": {"field": "v", "type": "quantitative"}}},
{"data": {"name": "e50"}, "mark": {"type": "line", "color": "#ff8c00", "strokeWidth": 2.5, "interpolate": "monotone"},
 "encoding": {"x": {"field": "i", "type": "quantitative"}, "y": {"field": "v", "type": "quantitative"}}},
{"data": {"name": "tr"}, "mark": {"type": "line", "color": "#2a2e33", "strokeWidth": 3.5, "strokeCap": "round"},
 "encoding": {"x": {"field": "i", "type": "quantitative"}, "y": {"field": "v", "type": "quantitative"}}},
{"data": {"values": [{}]}, "mark": {"type": "rect", "color": "#8d9398"},
 "encoding": {"x": {"datum": 225.2}, "x2": {"datum": 233.2}, "y": {"datum": 3.6896}, "y2": {"datum": 3.6790}}},
{"data": {"values": [{}]}, "mark": {"type": "point", "shape": "triangle-left", "filled": true, "size": 150, "color": "#8d9398", "opacity": 1},
 "encoding": {"x": {"datum": 224.5}, "y": {"datum": 3.6843}}},
{"data": {"values": [{}]}, "mark": {"type": "text", "color": "#ffffff", "fontSize": 14, "align": "center", "baseline": "middle"},
 "encoding": {"x": {"datum": 229.2}, "y": {"datum": 3.6843}, "text": {"value": "3.6848"}}},
{"data": {"values": [{}]}, "mark": {"type": "rect", "color": "#b4b4b4"},
 "encoding": {"x": {"datum": 116.9}, "x2": {"datum": 118.1}, "y": {"datum": 3.4684}, "y2": {"datum": 3.4700}}},
{"data": {"values": [{}]}, "mark": {"type": "rect", "fill": "#ffffff", "stroke": "#dcdcdc", "strokeWidth": 1},
 "encoding": {"x": {"datum": 17.63}, "x2": {"datum": 23.51}, "y": {"datum": 3.8240}, "y2": {"datum": 3.8137}}},
{"data": {"values": [{}]}, "mark": {"type": "text", "color": "#4a4a4a", "fontSize": 14, "fontWeight": "bold", "align": "left", "baseline": "middle"},
 "encoding": {"x": {"datum": 1.87}, "y": {"datum": 3.8192}, "text": {"value": "USDPLN"}}},
{"data": {"values": [{}]}, "mark": {"type": "text", "color": "#9a9a9a", "fontSize": 8, "align": "left", "baseline": "middle"},
 "encoding": {"x": {"datum": 8.68}, "y": {"datum": 3.8178}, "text": {"value": "CFD"}}},
{"data": {"values": [{}]}, "mark": {"type": "text", "color": "#888888", "fontSize": 8, "align": "center", "baseline": "middle"},
 "encoding": {"x": {"datum": 12.3}, "y": {"datum": 3.8200}, "text": {"value": "▼"}}},
{"data": {"values": [{}]}, "mark": {"type": "text", "color": "#555555", "fontSize": 12, "align": "left", "baseline": "middle"},
 "encoding": {"x": {"datum": 18.43}, "y": {"datum": 3.8186}, "text": {"value": "D1"}}},
{"data": {"values": [{}]}, "mark": {"type": "text", "color": "#888888", "fontSize": 8, "align": "center", "baseline": "middle"},
 "encoding": {"x": {"datum": 22.3}, "y": {"datum": 3.8184}, "text": {"value": "▼"}}},
{"data": {"values": [{}]}, "mark": {"type": "text", "color": "#a5a5a5", "fontSize": 11, "align": "left", "baseline": "alphabetic", "lineHeight": 14.15},
 "encoding": {"x": {"datum": 0.0}, "y": {"datum": 3.5109}, "text": {"value": ["▤✖","▤✖","▤✖","▤✖","▤✖"]}}},
{"data": {"values": [{}]}, "mark": {"type": "text", "color": "#6a6a6a", "fontSize": 12, "align": "left", "baseline": "alphabetic", "lineHeight": 14.15},
 "encoding": {"x": {"datum": 3.34}, "y": {"datum": 3.5109}, "text": {"value": ["EMA [200, 0] 3.7036","EMA [50, 0] 3.7366","EMA [50, 0] 3.7366","EMA [200, 0] 3.7036","EMA [200, 0] 3.7036"]}}},
{"data": {"values": [{}]}, "mark": {"type": "text", "color": "#ff8c00", "fontSize": 16, "align": "left", "baseline": "middle"},
 "encoding": {"x": {"datum": 218.3}, "y": {"datum": 3.4806}, "text": {"value": "12"}}},
{"data": {"values": [{}]}, "mark": {"type": "text", "color": "#b0b0b0", "fontSize": 16, "align": "left", "baseline": "middle"},
 "encoding": {"x": {"datum": 220.3}, "y": {"datum": 3.4806}, "text": {"value": "h"}}},
{"data": {"values": [{}]}, "mark": {"type": "text", "color": "#ff8c00", "fontSize": 16, "align": "left", "baseline": "middle"},
 "encoding": {"x": {"datum": 221.9}, "y": {"datum": 3.4806}, "text": {"value": "57"}}},
{"data": {"values": [{}]}, "mark": {"type": "text", "color": "#b0b0b0", "fontSize": 16, "align": "left", "baseline": "middle"},
 "encoding": {"x": {"datum": 223.9}, "y": {"datum": 3.4806}, "text": {"value": "m"}}}
]
},
{
"width": 1700, "height": 136,
"layer": [
{"data": {"name": "hist"}, "mark": {"type": "bar", "size": 3},
 "encoding": {
  "x": {"field": "i", "type": "quantitative", "scale": {"domain": [-0.8, 226.3], "nice": false, "zero": false},
        "axis": {"values": [0,18,36,54,72,90,108,126,144,162,180,198,216], "tickCount": 50, "labels": false, "ticks": false, "grid": true, "gridColor": "#f1f1f1", "domainColor": "#dcdcdc", "domainWidth": 2, "title": null}},
  "y": {"field": "v", "type": "quantitative", "scale": {"domain": [-0.04304, 0.04304], "nice": false, "zero": false},
        "axis": {"orient": "right", "values": [-0.04304,-0.02152,0,0.02152,0.04304], "tickCount": 20, "format": ".5f", "title": null, "ticks": false, "domain": false, "grid": true, "gridColor": "#f1f1f1", "labelPadding": 4, "labelFlush": false, "labelOverlap": false, "labelColor": "#5a5a5a", "labelFontSize": 14,
                 "labelBaseline": {"condition": {"test": "datum.value > 0.04", "value": "top"}, "value": "middle"},
                 "labelOffset": {"condition": {"test": "datum.value < -0.04", "value": -7}, "value": 0}}},
  "y2": {"datum": 0},
  "color": {"condition": {"test": "datum.v >= 0", "value": "#1c7fcc"}, "value": "#d40000"}
 }},
{"data": {"name": "sg"}, "mark": {"type": "line", "color": "#e3343a", "strokeWidth": 1.4, "interpolate": "monotone"},
 "encoding": {"x": {"field": "i", "type": "quantitative"}, "y": {"field": "v", "type": "quantitative"}}},
{"data": {"name": "m"}, "mark": {"type": "line", "color": "#3b92d8", "strokeWidth": 1.4, "interpolate": "monotone"},
 "encoding": {"x": {"field": "i", "type": "quantitative"}, "y": {"field": "v", "type": "quantitative"}}},
{"data": {"values": [{}]}, "mark": {"type": "rect", "color": "#b4b4b4"},
 "encoding": {"x": {"datum": 116.9}, "x2": {"datum": 118.1}, "y": {"datum": -0.0420}, "y2": {"datum": -0.0404}}},
{"data": {"values": [{}]}, "mark": {"type": "text", "color": "#a5a5a5", "fontSize": 11, "align": "left", "baseline": "alphabetic"},
 "encoding": {"x": {"datum": 0.0}, "y": {"datum": -0.03791}, "text": {"value": "▤✖"}}},
{"data": {"values": [{}]}, "mark": {"type": "text", "color": "#6a6a6a", "fontSize": 12, "align": "left", "baseline": "alphabetic"},
 "encoding": {"x": {"datum": 3.34}, "y": {"datum": -0.03791}, "text": {"value": "MACD [14, 30, 7] -0.01664, -0.01427"}}}
]
},
{
"width": 1700, "height": 110,
"layer": [
{"data": {"name": "rsi"}, "mark": {"type": "line", "color": "#3a3a3a", "strokeWidth": 1.2},
 "encoding": {
  "x": {"field": "i", "type": "quantitative", "scale": {"domain": [-0.8, 226.3], "nice": false, "zero": false},
        "axis": {"values": [0,18,36,54,72,90,108,126,144,162,180,198,216], "tickCount": 50, "labelExpr": "['16.12.2025','08.01.2026','29.01.2026','19.02.2026','12.03.2026','03.04.2026','24.04.2026','15.05.2026','05.06.2026','26.06.2026','17.07.2026','07.08.2026','28.08.2026'][round(datum.value/18)]", "labelAlign": "left", "labelPadding": 4, "labelColor": "#5a5a5a", "labelFontSize": 14, "ticks": false, "grid": true, "gridColor": "#f1f1f1", "domainColor": "#ececec", "domainWidth": 1, "title": null, "labelOverlap": false}},
  "y": {"field": "v", "type": "quantitative", "scale": {"domain": [0, 100], "nice": false, "zero": false},
        "axis": {"orient": "right", "values": [0,30,70,100], "tickCount": 20, "format": ".1f", "title": null, "ticks": false, "domain": false, "grid": true, "gridColor": "#eeeeee", "labelPadding": 4, "labelFlush": false, "labelOverlap": false, "labelColor": "#5a5a5a", "labelFontSize": 14,
                 "labelBaseline": {"condition": {"test": "datum.value > 99", "value": "top"}, "value": "middle"},
                 "labelOffset": {"condition": {"test": "datum.value < 1", "value": -7}, "value": 0}}}
 }},
{"data": {"values": [{}]}, "mark": {"type": "text", "color": "#a5a5a5", "fontSize": 11, "align": "left", "baseline": "alphabetic"},
 "encoding": {"x": {"datum": 0.0}, "y": {"datum": 3.6}, "text": {"value": "▤✖"}}},
{"data": {"values": [{}]}, "mark": {"type": "text", "color": "#6a6a6a", "fontSize": 12, "align": "left", "baseline": "alphabetic"},
 "encoding": {"x": {"datum": 3.34}, "y": {"datum": 3.6}, "text": {"value": "RSI [14] 34.8"}}}
]
}
]
}
